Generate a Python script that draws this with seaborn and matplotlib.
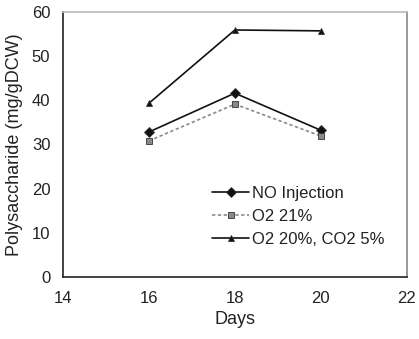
import matplotlib
matplotlib.use("Agg")
import matplotlib.pyplot as plt
import seaborn as sns
import pandas as pd

days = [16, 18, 20]
no_injection = [32.8, 41.6, 33.2]
o2_21 = [30.8, 39.1, 31.9]
o2_20_co2_5 = [39.3, 55.9, 55.7]
series_names = ["NO Injection", "O2 21%", "O2 20%, CO2 5%"]
x_ticks = [14, 16, 18, 20, 22]
y_ticks = [0, 10, 20, 30, 40, 50, 60]

rows = []
for name, vals in zip(series_names, [no_injection, o2_21, o2_20_co2_5]):
    for d, v in zip(days, vals):
        rows.append({"Days": d, "value": v, "series": name})
df = pd.DataFrame(rows)

sns.set_style("white")
plt.rcParams['font.family'] = ['Liberation Sans', 'DejaVu Sans']

fig = plt.figure(figsize=(4.19, 3.39), dpi=100)
ax = fig.add_axes([0.150, 0.183, 0.821, 0.782])

palette = {"NO Injection": "#111111", "O2 21%": "#8a8a8a", "O2 20%, CO2 5%": "#111111"}
markers = {"NO Injection": "D", "O2 21%": "s", "O2 20%, CO2 5%": "^"}
dashes = {"NO Injection": "", "O2 21%": (2, 1.5), "O2 20%, CO2 5%": ""}

sns.lineplot(data=df, x="Days", y="value", hue="series", style="series",
             palette=palette, markers=markers, dashes=dashes, ax=ax,
             linewidth=1.2, markersize=5, markeredgecolor="#333333",
             markeredgewidth=0.6, legend=True)

ax.set_xlim(14, 22)
ax.set_ylim(0, 60)
ax.set_xticks(x_ticks)
ax.set_yticks(y_ticks)
ax.tick_params(direction="in", length=4, width=1, labelsize=12, colors="#222222")
ax.tick_params(axis="x", pad=10)
ax.tick_params(axis="y", pad=9)
for s in ax.spines.values():
    s.set_color("#222222")
    s.set_linewidth(1.2)
ax.spines["top"].set_color("#bbbbbb")
ax.spines["right"].set_color("#888888")

ax.set_xlabel("Days", fontsize=13, color="#222222", labelpad=4)
ax.set_ylabel("Polysaccharide (mg/gDCW)", fontsize=13, color="#222222", labelpad=6)

leg = ax.legend(loc="upper left", bbox_to_anchor=(0.415, 0.37), frameon=False,
                fontsize=12, handlelength=2.2, handletextpad=0.2,
                labelspacing=0.5, borderaxespad=0)
for t in leg.get_texts():
    t.set_color("#222222")

fig.savefig("out.png", dpi=100)
